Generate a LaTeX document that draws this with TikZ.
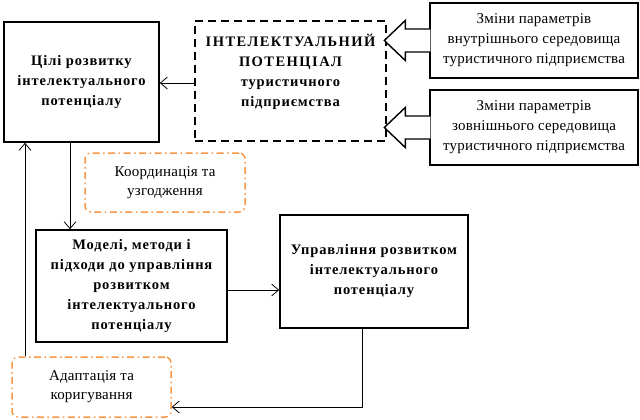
\documentclass[tikz,border=0pt]{standalone}
\usepackage{fontspec}
\setmainfont{Liberation Serif}
\newfontfamily\wideserif[LetterSpace=6]{Liberation Serif}
\newfontfamily\titleserif[LetterSpace=10]{Liberation Serif}
\newfontfamily\envserif[LetterSpace=1.5]{Liberation Serif}
\usetikzlibrary{positioning, calc, arrows.meta}
\definecolor{dorange}{RGB}{247,150,70}
\tikzset{
  box/.style={draw, line width=1.6pt, align=center, inner sep=2pt, font=\wideserif\bfseries\fontsize{14.5}{20}\selectfont},
  softbox/.style={draw=dorange, line width=1.5pt, rounded corners=6pt, align=center,
    dash pattern=on 7pt off 3.5pt on 1.5pt off 3.5pt, font=\envserif\fontsize{15}{19}\selectfont},
  envbox/.style={draw, line width=1.4pt, align=center, minimum width=208pt, minimum height=75pt,
    font=\envserif\fontsize{15}{20}\selectfont},
  arr/.style={-{Straight Barb[length=7pt,width=12pt]}, line width=0.8pt},
}
\begin{document}
\begin{tikzpicture}[x=1pt, y=-1pt]
    \useasboundingbox (0,0) rectangle (640,420);

    % основні блоки
    \node[box, minimum width=155pt, minimum height=120pt] (goals) at (81.5,82)
      {Цілі розвитку\\інтелектуального\\потенціалу};
    \node[box, dashed, dash pattern=on 8pt off 5pt, minimum width=191pt, minimum height=120pt] (intel) at (290.5,81) {};
    \node[font=\wideserif\bfseries\fontsize{14.5}{20}\selectfont, align=center] (inteltext) at (290.5,72)
      {{\titleserif ІНТЕЛЕКТУАЛЬНИЙ}\\{\titleserif ПОТЕНЦІАЛ}\\туристичного\\підприємства};
    \node[box, minimum width=191pt, minimum height=112pt] (models) at (131.5,286)
      {Моделі, методи і\\підходи до управління\\розвитком\\інтелектуального\\потенціалу};
    \node[box, minimum width=188pt, minimum height=113pt] (manage) at (374,271.5)
      {Управління розвитком\\інтелектуального\\потенціалу};

    % блоки узгодження та коригування
    \node[softbox, minimum width=160pt, minimum height=59pt] (coord) at (165,182.5)
      {Координація та\\узгодження};
    \node[softbox, minimum width=159pt, minimum height=60pt] (adapt) at (91.5,387)
      {Адаптація та\\коригування};

    % блоки зовнішніх змін
    \node[envbox] (inner) at (534,40.5)
      {Зміни параметрів\\внутрішнього середовища\\туристичного підприємства};
    \node[envbox] (outer) at (534,127.5)
      {Зміни параметрів\\зовнішнього середовища\\туристичного підприємства};

    % стрілки-виноски
    \foreach \b in {inner, outer}{
      \draw[line width=1.4pt, fill=white, line join=miter]
        ([xshift=1pt, yshift=-11.5pt]\b.west) -- ([xshift=-24pt, yshift=-11.5pt]\b.west)
        -- ([xshift=-24pt, yshift=-20pt]\b.west) -- ([xshift=-45pt]\b.west)
        -- ([xshift=-24pt, yshift=20pt]\b.west) -- ([xshift=-24pt, yshift=11.5pt]\b.west)
        -- ([xshift=1pt, yshift=11.5pt]\b.west);
    }

    % з'єднання
    \draw[arr] ([yshift=-2pt]intel.west) -- ([yshift=-2pt]intel.west -| goals.east);
    \draw[arr] ([xshift=-11.5pt]goals.south) -- ([xshift=-11.5pt]goals.south |- models.north);
    \draw[arr] ([yshift=-4pt]models.east) -- ([yshift=-4pt]models.east -| manage.west);
    \draw[arr] ([xshift=-12pt]manage.south) |- ([yshift=-20pt]adapt.east);
    \draw[arr] ([xshift=-66.5pt]adapt.north) -- ([xshift=-66.5pt]adapt.north |- goals.south);
\end{tikzpicture}
\end{document}
